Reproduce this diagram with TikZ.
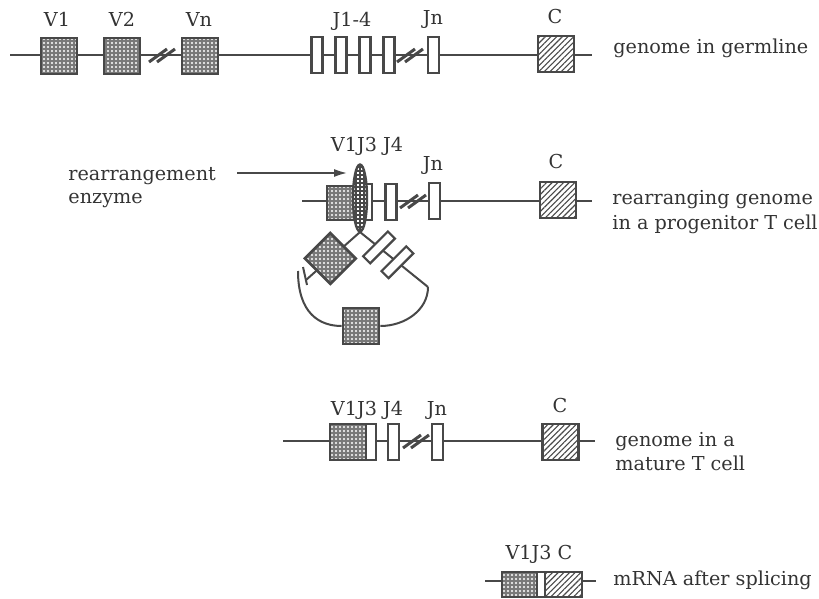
\documentclass[tikz,border=0pt]{standalone}
\usepackage{fontspec}
\setmainfont{DejaVu Serif}
\usetikzlibrary{patterns.meta,arrows.meta,shapes.geometric}

\definecolor{geneInk}{HTML}{484848}
\definecolor{geneText}{HTML}{333333}
\definecolor{geneDot}{HTML}{787878}

\tikzset{
  gline/.style={geneInk,line width=1pt},
  vseg/.style={draw=geneInk,line width=1.3pt,inner sep=0pt,minimum width=18pt,minimum height=18pt,
    preaction={fill=geneDot},pattern={Dots[distance=2pt,radius=0.6pt]},pattern color=white},
  jseg/.style={draw=geneInk,line width=1.1pt,fill=white,inner sep=0pt,minimum width=5.5pt,minimum height=18pt},
  cseg/.style={draw=geneInk,line width=1.3pt,inner sep=0pt,minimum width=18pt,minimum height=18pt,
    preaction={fill=white},pattern={Lines[angle=45,distance=2pt,line width=0.55pt]},pattern color=geneInk},
  lab/.style={text=geneText,inner sep=0pt,anchor=base},
  note/.style={text=geneText,inner sep=0pt,anchor=base west}
}

\begin{document}
\begin{tikzpicture}[x=0.5pt,y=-0.5pt,font=\fontsize{9.6}{11}\selectfont]
  \useasboundingbox (0,0) rectangle (819,599);

  % genome in germline
  \coordinate (g1l) at (10,55);
  \coordinate (g1r) at (592,55);
  \draw[gline] (g1l) -- (g1r);
  \node[vseg] (v1) at (59,56) {};
  \node[vseg] (v2) at (122,56) {};
  \node[vseg] (vn) at (200,56) {};
  \foreach \jj/\jx in {1/317,2/341,3/365,4/389} {
    \node[jseg] (j\jj) at (\jx,55) {};
  }
  \node[jseg] (jn) at (433.5,55) {};
  \node[cseg] (c) at (556,54) {};

  \node[lab] (v1lab) at (57,27) {V1};
  \node[lab] (v2lab) at (122,27) {V2};
  \node[lab] (vnlab) at (199,27) {Vn};
  \node[lab] (jlab) at (352,27) {J1-4};
  \node[lab] (jnlab) at (433,25) {Jn};
  \node[lab] (clab) at (555,24) {C};
  \node[note] (germ) at (613,54) {genome in germline};

  % rearranging genome
  \coordinate (g2l) at (302,201);
  \coordinate (g2r) at (592,201);
  \draw[gline] (g2l) -- (g2r);
  \node[vseg,minimum width=16.5pt,minimum height=17pt] (rv) at (343.5,203) {};
  \node[jseg] (rj3) at (366.5,202) {};
  \node[jseg] (rj4) at (391,202) {};
  \node[jseg] (rjn) at (434.5,201) {};
  \node[cseg] (rc) at (558,200) {};

  \node[draw=geneInk,line width=1.2pt,ellipse,inner sep=0pt,minimum width=7pt,minimum height=33.5pt,
    preaction={fill=white},pattern={Hatch[distance=2pt,line width=0.55pt]},pattern color=geneInk] (enz) at (360,198) {};

  \coordinate (loopL) at (306,280);
  \coordinate (loopR) at (428,287);
  \coordinate (arcL) at (298,271);
  \coordinate (tickA) at (303,267);
  \coordinate (tickB) at (307,285);
  \draw[gline] (enz.south) -- (loopL)
    node[vseg,rotate=45,pos=0.55] (lv) {};
  \draw[gline] (enz.south) -- (loopR)
    node[jseg,rotate=-45,minimum width=5pt,minimum height=17.5pt,pos=0.28] (lj1) {}
    node[jseg,rotate=-45,minimum width=5pt,minimum height=17.5pt,pos=0.55] (lj2) {};
  \draw[gline] (tickA) -- (tickB);
  \node[vseg] (lvb) at (361,326) {};
  \draw[gline] (arcL) .. controls (298,314) and (320,326) .. (lvb.west);
  \draw[gline] (lvb.east) .. controls (405,326) and (428,310) .. (loopR);

  \coordinate (enzstart) at (237,173);
  \coordinate (enztip) at (348,173);
  \draw[gline,line width=1.2pt,-{Latex[length=7pt,width=4pt]}] (enzstart) -- (enztip);

  \node[lab] (rvlab) at (367,151) {V1J3 J4};
  \node[lab] (rjnlab) at (433,170) {Jn};
  \node[lab] (rclab) at (556,169) {C};
  \node[note] (enzlab) at (68,180) {rearrangement};
  \node[note] (enzlab2) at (68,203) {enzyme};
  \node[note] (prog) at (612,205) {rearranging genome};
  \node[note] (prog2) at (612,229) {in a progenitor T cell};

  % genome in a mature T cell
  \coordinate (g3l) at (283,441);
  \coordinate (g3r) at (595,441);
  \draw[gline] (g3l) -- (g3r);
  \node[vseg] (mv) at (348,442) {};
  \node[jseg,minimum width=5pt] (mj3) at (371,442) {};
  \node[jseg] (mj4) at (393.5,442) {};
  \node[jseg] (mjn) at (437.5,442) {};
  \node[cseg] (mc) at (560.5,442) {};

  \node[lab] (mvlab) at (367,415) {V1J3 J4};
  \node[lab] (mjnlab) at (437,415) {Jn};
  \node[lab] (mclab) at (560,412) {C};
  \node[note] (mat) at (615,446) {genome in a};
  \node[note] (mat2) at (615,470) {mature T cell};

  % slashes
  \foreach \sx/\sy in {162/55,410/55,413/201,416/441} {
    \draw[gline,line width=1.5pt] (\sx-13,\sy+7) -- (\sx+5,\sy-6);
    \draw[gline,line width=1.5pt] (\sx-5,\sy+7) -- (\sx+13,\sy-6);
  }

  % mRNA
  \coordinate (g4l) at (485,581);
  \coordinate (g4r) at (596,581);
  \draw[gline] (g4l) -- (g4r);
  \node[vseg,minimum width=17.5pt,minimum height=12.5pt] (sv) at (519.5,584.5) {};
  \node[jseg,minimum width=4pt,minimum height=12.5pt] (sj) at (541,584.5) {};
  \node[cseg,minimum width=18.5pt,minimum height=12.5pt] (sc) at (563.5,584.5) {};

  \node[lab] (slab) at (539,559) {V1J3 C};
  \node[note] (spl) at (613,585) {mRNA after splicing};
\end{tikzpicture}
\end{document}
